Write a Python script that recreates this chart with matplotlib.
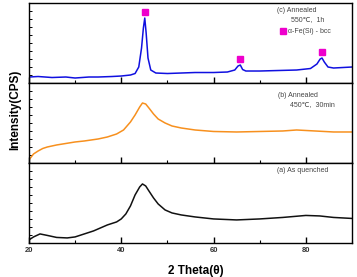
import matplotlib.pyplot as plt
from matplotlib.ticker import MultipleLocator, NullFormatter

plt.rcParams['font.family'] = ['Liberation Sans', 'DejaVu Sans', 'Noto Sans CJK SC']

# (c) annealed 550C 1h
theta_c = [20, 22, 25, 28, 30, 33, 35, 38, 40, 42, 43, 43.8, 44.4, 44.8, 45.1, 45.4, 45.8, 46.4,
           47.5, 50, 53, 56, 60, 63, 64.6, 65.3, 65.8, 66.3, 67, 70, 74, 78, 81, 82.4, 83.1, 83.5,
           84, 84.8, 86, 88, 90]
cps_c = [6, 6.5, 5.5, 6, 5, 6, 6, 6.5, 7, 8, 9.5, 16, 35, 55, 65, 50, 25, 13,
         10, 9.5, 10, 10.5, 10.5, 11, 13, 17, 18, 13.5, 12, 12, 12.5, 13, 14.5, 19, 24, 25,
         21, 16, 15, 15.5, 16]
peak_x = [45.1, 65.8, 83.5]
peak_y = [71, 24, 31]

# (b) annealed 450C 30min
theta_b = [20, 20.5, 21, 22, 23, 24, 26, 28, 30, 32, 35, 37, 39, 40.5, 42, 43, 44, 44.6, 45.3,
           46, 47, 48, 49.5, 51, 53, 56, 60, 65, 70, 75, 78, 82, 86, 90]
cps_b = [3, 6, 9, 12, 14.5, 16, 18, 19.5, 21, 22, 24, 26, 29, 33, 41, 48, 56, 60, 59,
         55, 49, 44, 40, 37, 35, 33, 31.5, 31, 31.5, 32, 33, 32, 31, 31]

# (a) as quenched
theta_a = [20, 21, 22.4, 24, 26, 28.3, 30, 32, 34, 35.5, 37, 39, 40, 41, 42, 43, 44, 44.6, 45.3,
           46, 47, 48, 49.5, 51, 53, 56, 60, 65, 70, 75, 80, 83, 86, 90]
cps_a = [3, 6, 9, 7.5, 5.5, 5, 6, 9, 12, 15, 18, 21, 24, 29, 37, 48, 56, 59, 57,
         52, 45, 39, 33, 30, 28, 26, 24, 23, 24, 25.5, 27.5, 27, 25.5, 24.5]

xticks = [20, 40, 60, 80]

fig, axes = plt.subplots(3, 1, sharex=True, figsize=(3.57, 2.77), dpi=100)
fig.subplots_adjust(left=0.081, right=0.986, top=0.989, bottom=0.123, hspace=0)

series = [(theta_c, cps_c, '#1010e0'), (theta_b, cps_b, '#f7901e'), (theta_a, cps_a, '#111111')]
for ax, (tx, ty, col) in zip(axes, series):
    ax.plot(tx, ty, color=col, lw=1.1)
    ax.set_xlim(20, 90)
    ax.set_ylim(0, 80)
    ax.xaxis.set_major_locator(MultipleLocator(20))
    ax.xaxis.set_minor_locator(MultipleLocator(10))
    ax.yaxis.set_major_locator(MultipleLocator(8))
    ax.yaxis.set_major_formatter(NullFormatter())
    ax.tick_params(axis='both', which='both', direction='in', top=False, right=False)
    ax.tick_params(axis='x', which='major', length=4, width=1)
    ax.tick_params(axis='x', which='minor', length=2, width=0.8)
    ax.tick_params(axis='y', which='major', length=2.5, width=0.7)
    for s in ax.spines.values():
        s.set_linewidth(1.0)

axes[0].plot(peak_x, peak_y, 's', color='#ee00cc', ms=5, lw=0)

note = dict(fontsize=5, color='#444444', va='center')
ax = axes[0]
ax.text(0.768, 0.91, '(c) Annealed', transform=ax.transAxes, **note)
ax.text(0.811, 0.79, '550℃,  1h', transform=ax.transAxes, **note)
ax.plot([0.786], [0.65], 's', color='#ee00cc', ms=4.5, transform=ax.transAxes)
ax.text(0.801, 0.65, 'α-Fe(Si) - bcc', transform=ax.transAxes, **note)
ax = axes[1]
ax.text(0.771, 0.84, '(b) Annealed', transform=ax.transAxes, **note)
ax.text(0.808, 0.725, '450℃,  30min', transform=ax.transAxes, **note)
ax = axes[2]
ax.text(0.768, 0.9, '(a) As quenched', transform=ax.transAxes, **note)

axes[2].set_xticks(xticks)
axes[2].set_xticklabels([str(v) for v in xticks], fontsize=5.5, fontweight='bold', color='#333333')
axes[2].tick_params(axis='x', which='major', pad=3)
fig.text(0.548, 0.022, '2 Theta(θ)', ha='center', va='center', fontsize=8.5, fontweight='bold')
fig.text(0.042, 0.603, 'Intensity(CPS)', rotation=90, ha='center', va='center',
         fontsize=8.5, fontweight='bold')

fig.savefig('out.png', dpi=100)
